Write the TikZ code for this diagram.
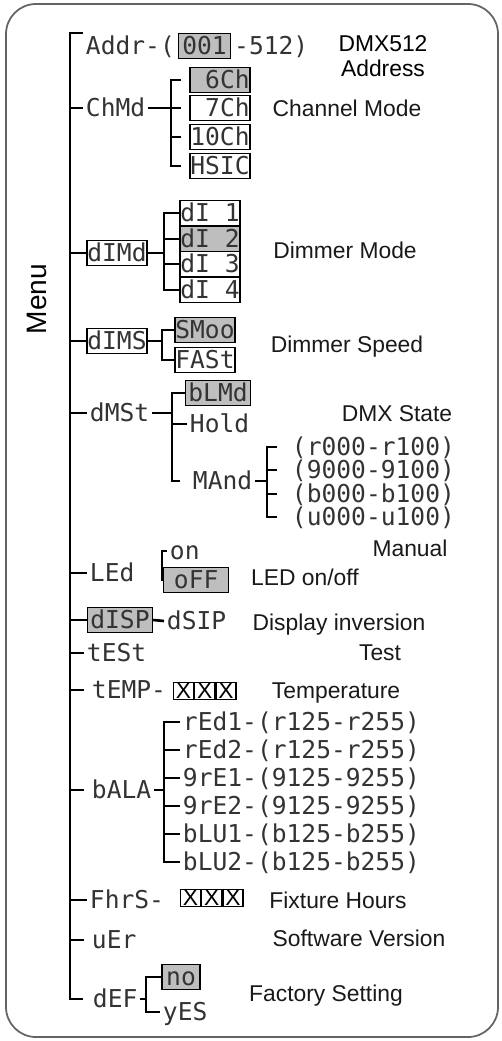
\documentclass[tikz,border=0pt]{standalone}
\usepackage{fontspec}
\setmainfont{Liberation Sans}
\newfontfamily\segfont{DejaVu Sans Mono}
\definecolor{lcdgray}{RGB}{190,190,190}
\definecolor{framegray}{RGB}{100,100,100}
\begin{document}
\begin{tikzpicture}[x=0.02cm, y=-0.02cm,
  seg/.style={font=\segfont\fontsize{14}{14}\selectfont, text=black!80, inner sep=1.5pt, text height=10pt, text depth=0pt},
  lcd/.style={seg, draw=black, line width=0.8pt, inner xsep=0.3pt, minimum width=1.2cm, minimum height=0.49cm},
  sel/.style={lcd, fill=lcdgray},
  xbox/.style={draw, line width=0.7pt, inner sep=0pt, minimum width=0.4cm, minimum height=0.35cm, font=\fontsize{13}{13}\selectfont},
  note/.style={font=\fontsize{13}{14}\selectfont, text=black!90, text height=9.4pt, text depth=0pt},
  link/.style={line width=1.5pt}]
\useasboundingbox (0,0) rectangle (501,1041);
\draw[framegray, line width=1pt, rounded corners=0.6cm] (6,4) rectangle (498,1037);
\node[font=\fontsize{16}{16}\selectfont, rotate=90] (menu) at (37,299) {Menu};
\coordinate (trunk) at (70,33);

% address
\node[seg, anchor=west] (addr) at (83,46) {Addr-(};
\node[sel, minimum width=1.04cm, anchor=west] (a001) at (addr.east) {001};
\node[seg, anchor=west] (a512) at (a001.east) {-512)};
\node[font=\fontsize{13}{14}\selectfont, align=center] (addrlbl) at (383,56) {DMX512\\Address};

% channel mode
\node[seg, anchor=west] (chmd) at (83,108) {ChMd};
\node[sel, minimum width=1.16cm] (ch6) at (220,80) {~6Ch};
\node[lcd, minimum width=1.16cm] (ch7) at (220,108) {~7Ch};
\node[lcd, minimum width=1.16cm] (ch10) at (220,137) {10Ch};
\node[lcd, minimum width=1.16cm] (hsic) at (220,166) {HSIC};
\coordinate (chb) at (171,108);
\draw[link, shorten <=0.16cm, shorten >=0.16cm] (ch6.west) -| (chb) |- (hsic.west);
\draw[link, shorten >=0.16cm] (chb |- ch7) -- (ch7.west);
\draw[link, shorten >=0.16cm] (chb |- ch10) -- (ch10.west);
\draw[link] (chmd.east) -- (chb);
\node[note] (chlbl) at (347,108) {Channel Mode};

% dimmer mode
\node[lcd] (dimd) at (117,253) {dIMd};
\node[lcd] (di1) at (210,213) {dI~1};
\node[sel] (di2) at (210,239) {dI~2};
\node[lcd] (di3) at (210,264) {dI~3};
\node[lcd] (di4) at (210,290) {dI~4};
\coordinate (dib) at (164,253);
\draw[link] (di1.west) -| (dib) |- (di4.west);
\draw[link] (dib |- di2) -- (di2.west);
\draw[link] (dib |- di3) -- (di3.west);
\draw[link] (dimd.east) -- (dib);
\node[note] (dimlbl) at (345,250) {Dimmer Mode};

% dimmer speed
\node[lcd] (dims) at (117,341) {dIMS};
\node[sel] (smoo) at (205,330) {SMoo};
\node[lcd] (fast) at (205,360) {FASt};
\coordinate (spb) at (162,341);
\draw[link] (smoo.west) -| (spb) |- (fast.west);
\draw[link] (dims.east) -- (spb);
\node[note] (spdlbl) at (347,344) {Dimmer Speed};

% dmx state
\node[seg, anchor=west] (dmst) at (87,413) {dMSt};
\node[sel, minimum width=1.3cm] (blmd) at (218,393) {bLMd};
\node[seg, anchor=west] (hold) at (187,424) {Hold};
\node[seg, anchor=west] (mand) at (190,481) {MAnd};
\coordinate (stb) at (172,413);
\draw[link, shorten >=0.2cm] (blmd.west) -| (stb) |- (mand.west);
\draw[link] (stb |- hold) -- (hold.west);
\draw[link] (dmst.east) -- (stb);
\node[seg, anchor=west] (rrng) at (289,447) {(r000-r100)};
\node[seg, anchor=west] (grng) at (289,470) {(9000-9100)};
\node[seg, anchor=west] (brng) at (289,494) {(b000-b100)};
\node[seg, anchor=west] (urng) at (289,517) {(u000-u100)};
\coordinate (mab) at (267,481);
\draw[link, shorten <=0.24cm, shorten >=0.24cm] (rrng.west) -| (mab) |- (urng.west);
\draw[link, shorten >=0.24cm] (mab |- grng) -- (grng.west);
\draw[link, shorten >=0.24cm] (mab |- brng) -- (brng.west);
\draw[link] (mand.east) -- (mab);
\node[note] (stlbl) at (397,413) {DMX State};
\node[note] (manlbl) at (410,548) {Manual};

% led
\node[seg, anchor=west] (led) at (87,573) {LEd};
\node[seg, anchor=west] (on) at (167,551) {on};
\node[sel, minimum width=1.3cm, anchor=west] (off) at (163,580) {oFF~};
\coordinate (lsb) at (162,573);
\draw[link] (on.west) -| (lsb) |- (off.west);
\node[note] (ledlbl) at (305,577) {LED on/off};

% display
\node[sel, minimum width=1.3cm] (disp) at (120,620) {dISP};
\node[seg, anchor=west] (dsip) at (164,621) {dSIP};
\draw[link] (disp.east) -- (dsip.west);
\node[note] (displbl) at (339,622) {Display inversion};

% test, temperature
\node[seg, anchor=west] (test) at (84,653) {tESt};
\node[note] (testlbl) at (380,652) {Test};
\node[seg, anchor=west] (temp) at (89,690) {tEMP-};
\node[xbox, anchor=west] (tx1) at (173,691) {X};
\node[xbox, anchor=west] (tx2) at (tx1.east) {X};
\node[xbox, anchor=west] (tx3) at (tx2.east) {X};
\node[note] (templbl) at (336,690) {Temperature};

% balance
\node[seg, anchor=west] (bala) at (89,790) {bALA};
\node[seg, anchor=west] (red1) at (180,722) {rEd1-(r125-r255)};
\node[seg, anchor=west] (red2) at (180,750) {rEd2-(r125-r255)};
\node[seg, anchor=west] (gre1) at (180,778) {9rE1-(9125-9255)};
\node[seg, anchor=west] (gre2) at (180,806) {9rE2-(9125-9255)};
\node[seg, anchor=west] (blu1) at (180,834) {bLU1-(b125-b255)};
\node[seg, anchor=west] (blu2) at (180,862) {bLU2-(b125-b255)};
\coordinate (bab) at (164,790);
\draw[link] (red1.west) -| (bab) |- (blu2.west);
\draw[link] (bab |- red2) -- (red2.west);
\draw[link] (bab |- gre1) -- (gre1.west);
\draw[link] (bab |- gre2) -- (gre2.west);
\draw[link] (bab |- blu1) -- (blu1.west);
\draw[link] (bala.east) -- (bab);

% hours, version
\node[seg, anchor=west] (fhrs) at (87,900) {FhrS-};
\node[xbox, anchor=west] (fx1) at (180,898) {X};
\node[xbox, anchor=west] (fx2) at (fx1.east) {X};
\node[xbox, anchor=west] (fx3) at (fx2.east) {X};
\node[note] (fhrslbl) at (338,900) {Fixture Hours};
\node[seg, anchor=west] (uer) at (89,940) {uEr};
\node[note] (uerlbl) at (359,938) {Software Version};

% factory setting
\node[seg, anchor=west] (def) at (90,999) {dEF};
\node[sel, minimum width=0.76cm] (no) at (181,977) {no};
\node[seg, anchor=west] (yes) at (160,1012) {yES};
\coordinate (dfb) at (146,999);
\draw[link] (no.west) -| (dfb) |- (yes.west);
\draw[link] (def.east) -- (dfb);
\node[note] (deflbl) at (326,993) {Factory Setting};

% menu trunk
\draw[link, shorten >=0.14cm] (addr.west |- trunk) -- (trunk) |- (def.west);
\draw[link] (trunk |- chmd) -- (chmd.west);
\draw[link] (trunk |- dimd) -- (dimd.west);
\draw[link] (trunk |- dims) -- (dims.west);
\draw[link] (trunk |- dmst) -- (dmst.west);
\draw[link] (trunk |- led) -- (led.west);
\draw[link] (trunk |- disp) -- (disp.west);
\draw[link] (trunk |- test) -- (test.west);
\draw[link, shorten >=0.1cm] (trunk |- temp) -- (temp.west);
\draw[link, shorten >=0.1cm] (trunk |- bala) -- (bala.west);
\draw[link] (trunk |- fhrs) -- (fhrs.west);
\draw[link, shorten >=0.1cm] (trunk |- uer) -- (uer.west);
\end{tikzpicture}
\end{document}
